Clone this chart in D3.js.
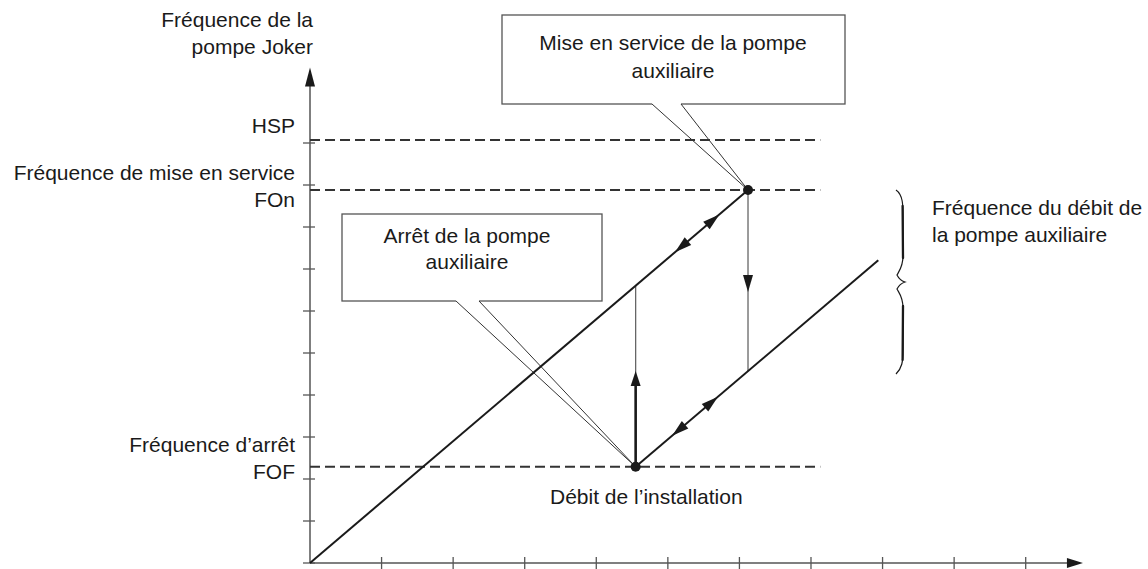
<!DOCTYPE html>
<html>
<head>
<meta charset="utf-8">
<script src="https://cdn.jsdelivr.net/npm/d3@7"></script>
<style>
  html, body { margin: 0; padding: 0; background: #fff; }
  svg { display: block; }
  text { font-family: "Liberation Sans", Arial, sans-serif; font-size: 21px; fill: #1a1a1a; }
</style>
</head>
<body>
<svg id="chart" width="1148" height="569"></svg>
<script>
// ---------- data ----------
const xTicks = [0, 1, 2, 3, 4, 5, 6, 7, 8, 9, 10];
const yTicks = [0, 1, 2, 3, 4, 5, 6, 7, 8, 9, 10];
const xAxisEnd = 10.8;
const yAxisEnd = 11.8;

const levelNames = ["HSP", "FOn", "FOF"];
const levelValues = [10.07, 8.88, 2.29];
const levelEnd = 7.13;

const onPoint = [6.12, 8.88];   // mise en service
const offPoint = [4.55, 2.29];  // arrêt
const lowerEndX = 7.94;
const upArrowTop = 4.57;        // tip of thick arrow
const downArrowTip = 6.45;      // tip of the arrow on the right vertical
const mainArrowX = [5.72, 5.10];   // up-right, down-left
const lowerArrowX = [5.70, 5.06];  // up-right, down-left

const yLabelLines = ["Fréquence de la", "pompe Joker"];
const levelLabels = [["HSP"], ["Fréquence de mise en service", "FOn"], ["Fréquence d’arrêt", "FOF"]];
const callOnLines = ["Mise en service de la pompe", "auxiliaire"];
const callOffLines = ["Arrêt de la pompe", "auxiliaire"];
const flowLabel = "Débit de l’installation";
const braceLines = ["Fréquence du débit de", "la pompe auxiliaire"];

// ---------- layout ----------
const svg = d3.select("#chart");
const x = d3.scaleLinear().domain([0, 10]).range([310, 1025.7]);
const y = d3.scaleLinear().domain([0, 10]).range([563, 143]);

const slope = onPoint[1] / onPoint[0];
const lowerY = xv => offPoint[1] + slope * (xv - offPoint[0]);
const mainY = xv => slope * xv;

function arrowHead(g, px, py, angle, len, hw) {
  const cx = Math.cos(angle), cy = Math.sin(angle);
  const bx = px - cx * len, by = py - cy * len;
  const pts = [[px, py], [bx - cy * hw, by + cx * hw], [bx + cy * hw, by - cx * hw]];
  g.append("path").attr("d", "M" + pts.map(p => p.join(",")).join("L") + "Z")
    .attr("fill", "#1a1a1a");
}

// ---------- callout boxes ----------
function callout(box, gap, tip, lines, cx, baselines) {
  const g = svg.append("g");
  g.append("rect").attr("x", box[0]).attr("y", box[1])
    .attr("width", box[2] - box[0]).attr("height", box[3] - box[1])
    .attr("fill", "#fff").attr("stroke", "#555").attr("stroke-width", 1.3);
  g.append("line").attr("x1", gap[0]).attr("y1", box[3]).attr("x2", gap[1]).attr("y2", box[3])
    .attr("stroke", "#fff").attr("stroke-width", 3);
  gap.forEach(gx => {
    g.append("line").attr("x1", gx).attr("y1", box[3]).attr("x2", tip[0]).attr("y2", tip[1])
      .attr("stroke", "#333").attr("stroke-width", 1);
  });
  lines.forEach((t, i) => {
    g.append("text").attr("x", cx).attr("y", baselines[i]).attr("text-anchor", "middle").text(t);
  });
}
callout([502, 15, 845, 104], [652, 681], [x(onPoint[0]), y(onPoint[1])], callOnLines, 673, [50, 78]);
callout([342, 214, 602, 301], [456, 479], [x(offPoint[0]), y(offPoint[1])], callOffLines, 467, [243, 269]);

// ---------- axes ----------
const axisCol = "#555";
svg.append("line").attr("x1", x(0)).attr("y1", y(0)).attr("x2", x(xAxisEnd) - 14).attr("y2", y(0))
  .attr("stroke", axisCol).attr("stroke-width", 1.5);
svg.append("line").attr("x1", x(0)).attr("y1", y(0)).attr("x2", x(0)).attr("y2", y(yAxisEnd) + 16)
  .attr("stroke", axisCol).attr("stroke-width", 1.5);
arrowHead(svg, x(xAxisEnd), y(0), 0, 16, 5);
arrowHead(svg, x(0), y(yAxisEnd), -Math.PI / 2, 19, 5);

svg.append("g").selectAll("line").data(xTicks.slice(1)).join("line")
  .attr("x1", d => x(d)).attr("x2", d => x(d)).attr("y1", y(0) - 6).attr("y2", y(0) + 6)
  .attr("stroke", axisCol).attr("stroke-width", 1.3);
svg.append("g").selectAll("line").data(yTicks).join("line")
  .attr("y1", d => y(d)).attr("y2", d => y(d)).attr("x1", x(0) - 7).attr("x2", x(0) + 5)
  .attr("stroke", axisCol).attr("stroke-width", 1.3);

// ---------- dashed levels ----------
svg.append("g").selectAll("line").data(levelValues).join("line")
  .attr("x1", x(0)).attr("x2", x(levelEnd)).attr("y1", d => y(d)).attr("y2", d => y(d))
  .attr("stroke", "#333").attr("stroke-width", 2).attr("stroke-dasharray", "10,5");

// ---------- vertical transitions ----------
svg.append("line").attr("x1", x(offPoint[0])).attr("x2", x(offPoint[0]))
  .attr("y1", y(offPoint[1])).attr("y2", y(mainY(offPoint[0])))
  .attr("stroke", "#666").attr("stroke-width", 1.3);
svg.append("line").attr("x1", x(offPoint[0])).attr("x2", x(offPoint[0]))
  .attr("y1", y(offPoint[1])).attr("y2", y(upArrowTop) + 12)
  .attr("stroke", "#1a1a1a").attr("stroke-width", 2.6);
arrowHead(svg, x(offPoint[0]), y(upArrowTop), -Math.PI / 2, 15, 5);

svg.append("line").attr("x1", x(onPoint[0])).attr("x2", x(onPoint[0]))
  .attr("y1", y(onPoint[1])).attr("y2", y(lowerY(onPoint[0])))
  .attr("stroke", "#666").attr("stroke-width", 1.3);
arrowHead(svg, x(onPoint[0]), y(downArrowTip), Math.PI / 2, 17, 5);

// ---------- main lines ----------
const line = d3.line().x(d => x(d[0])).y(d => y(d[1]));
svg.append("path").attr("d", line([[0, 0], onPoint])).attr("fill", "none")
  .attr("stroke", "#1a1a1a").attr("stroke-width", 2);
svg.append("path").attr("d", line([offPoint, [lowerEndX, lowerY(lowerEndX)]])).attr("fill", "none")
  .attr("stroke", "#1a1a1a").attr("stroke-width", 2);

const ang = Math.atan2(y(1) - y(0), x(1 / slope) - x(0));
arrowHead(svg, x(mainArrowX[0]), y(mainY(mainArrowX[0])), ang, 17, 5);
arrowHead(svg, x(mainArrowX[1]), y(mainY(mainArrowX[1])), ang + Math.PI, 17, 5);
arrowHead(svg, x(lowerArrowX[0]), y(lowerY(lowerArrowX[0])), ang, 17, 5);
arrowHead(svg, x(lowerArrowX[1]), y(lowerY(lowerArrowX[1])), ang + Math.PI, 17, 5);

svg.append("g").selectAll("circle").data([onPoint, offPoint]).join("circle")
  .attr("cx", d => x(d[0])).attr("cy", d => y(d[1])).attr("r", 5).attr("fill", "#1a1a1a");

// ---------- brace ----------
svg.append("path")
  .attr("d", "M896,190 C903,195 903,205 903,216 L903,256 C903,267 899,271 897,275 C899,279 902,281 905,282 C902,283 899,285 897,289 C899,293 903,297 903,308 L903,350 C903,362 902,368 896,374")
  .attr("fill", "none").attr("stroke", "#1a1a1a").attr("stroke-width", 1.2);
svg.append("path")
  .attr("d", "M902.6,206 L903,258 M903,306 L902.6,360")
  .attr("fill", "none").attr("stroke", "#1a1a1a").attr("stroke-width", 2.3).attr("stroke-linecap", "round");

// ---------- labels ----------
yLabelLines.forEach((t, i) => {
  svg.append("text").attr("x", 313).attr("y", 27 + i * 27).attr("text-anchor", "end").text(t);
});
const labelBase = [[133], [180, 207], [452, 479]];
levelLabels.forEach((lines, k) => {
  lines.forEach((t, i) => {
    svg.append("text").attr("x", 295).attr("y", labelBase[k][i]).attr("text-anchor", "end").text(t);
  });
});
svg.append("text").attr("x", 550).attr("y", 504).text(flowLabel);
braceLines.forEach((t, i) => {
  svg.append("text").attr("x", 932).attr("y", 215 + i * 27).text(t);
});
</script>
</body>
</html>
